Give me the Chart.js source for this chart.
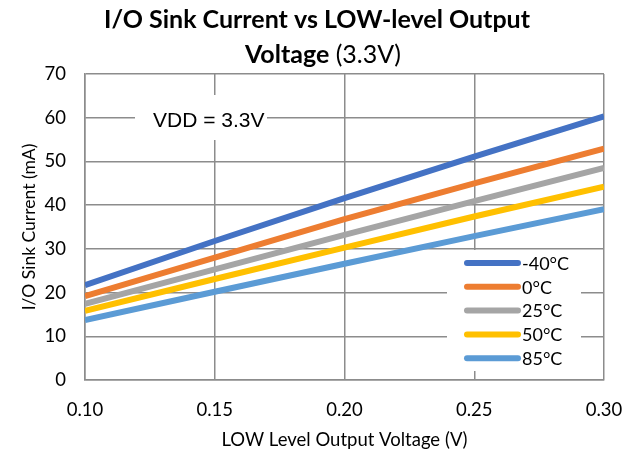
<!DOCTYPE html>
<html>
<head>
<meta charset="utf-8">
<script src="https://cdn.jsdelivr.net/npm/chart.js@4"></script>
<style>
  html, body { margin: 0; padding: 0; background: #fff; }
  #wrap { width: 635px; height: 454px; }
</style>
</head>
<body>
<div id="wrap"><canvas id="chart" width="635" height="454"></canvas></div>
<script>
const voltages = [0.10, 0.15, 0.20, 0.25, 0.30];
const tempLabels = ["-40°C", "0°C", "25°C", "50°C", "85°C"];
const sinkM40 = [21.7, 31.8, 41.6, 51.1, 60.3];
const sink0 = [19.2, 28.0, 36.8, 45.0, 52.9];
const sink25 = [17.4, 25.3, 33.2, 40.9, 48.5];
const sink50 = [15.8, 23.1, 30.3, 37.4, 44.2];
const sink85 = [13.7, 20.2, 26.6, 32.9, 39.1];
const colors = ["#4472C4", "#ED7D31", "#A5A5A5", "#FFC000", "#5B9BD5"];

const allSeries = [sinkM40, sink0, sink25, sink50, sink85];
const gridColor = "#8c8c8c";
const calibri = "Lato, 'Open Sans', sans-serif";

function toPoints(vals) {
  return vals.map((v, i) => ({ x: voltages[i], y: v }));
}

// title with bold + normal parts
const titlePlugin = {
  id: "title2",
  afterDraw(chart) {
    const ctx = chart.ctx;
    ctx.save();
    ctx.fillStyle = "#000";
    ctx.textBaseline = "middle";
    ctx.textAlign = "center";
    ctx.font = "bold 25px " + calibri;
    ctx.fillText("I/O Sink Current vs LOW-level Output", 317, 20);
    ctx.textAlign = "left";
    const bold = "Voltage";
    const rest = " (3.3V)";
    ctx.font = "bold 25px " + calibri;
    const w1 = ctx.measureText(bold).width;
    ctx.font = "25px " + calibri;
    const w2 = ctx.measureText(rest).width;
    let x = 323 - (w1 + w2) / 2;
    ctx.font = "bold 25px " + calibri;
    ctx.fillText(bold, x, 55);
    ctx.font = "25px " + calibri;
    ctx.fillText(rest, x + w1, 55);
    ctx.restore();
  }
};

// VDD note + legend box sit on top of the grid
const boxesPlugin = {
  id: "boxes",
  beforeDatasetsDraw(chart) {
    const ctx = chart.ctx;
    ctx.save();
    ctx.fillStyle = "#fff";
    ctx.fillRect(135, 95, 132, 45);
    ctx.fillRect(447, 250, 134, 121);
    ctx.fillStyle = "#000";
    ctx.font = "21px 'Liberation Sans', Arial, sans-serif";
    ctx.textBaseline = "middle";
    ctx.fillText("VDD = 3.3V", 153, 121);
    ctx.restore();
  },
  afterDatasetsDraw(chart) {
    const ctx = chart.ctx;
    ctx.save();
    ctx.font = "18px " + calibri;
    ctx.textBaseline = "middle";
    chart.data.datasets.forEach((ds, i) => {
      const y = 263 + i * 23.8;
      ctx.strokeStyle = ds.borderColor;
      ctx.lineWidth = 6;
      ctx.lineCap = "round";
      ctx.beginPath();
      ctx.moveTo(467, y);
      ctx.lineTo(518, y);
      ctx.stroke();
      ctx.fillStyle = "#000";
      ctx.fillText(ds.label, 522, y + 1);
    });
    ctx.restore();
  }
};

new Chart(document.getElementById("chart"), {
  type: "line",
  data: {
    datasets: allSeries.map((s, i) => ({
      label: tempLabels[i],
      data: toPoints(s),
      borderColor: colors[i],
      backgroundColor: colors[i],
      borderWidth: 6,
      pointRadius: 0,
      tension: 0,
      borderCapStyle: "butt"
    }))
  },
  options: {
    responsive: false,
    animation: false,
    layout: { padding: { left: 0, right: 31, top: 74, bottom: 0 } },
    plugins: {
      legend: { display: false },
      tooltip: { enabled: false }
    },
    scales: {
      x: {
        type: "linear",
        min: 0.1,
        max: 0.3,
        afterFit(scale) { scale.height = 74; },
        // invisible tick marks push the labels down without widening the side padding
        grid: { color: gridColor, lineWidth: 1.5, drawTicks: true, tickLength: 19, tickColor: "rgba(0,0,0,0)" },
        border: { color: gridColor, width: 1.5 },
        ticks: {
          stepSize: 0.05,
          padding: 0,
          color: "#000",
          font: { family: calibri, size: 18.5 },
          callback: v => v.toFixed(2)
        },
        title: {
          display: true,
          text: "LOW Level Output Voltage (V)",
          color: "#000",
          font: { family: calibri, size: 18.5 },
          padding: { top: 0, bottom: 3 }
        }
      },
      y: {
        min: 0,
        max: 70,
        afterFit(scale) { scale.width = 85; },
        grid: { color: gridColor, lineWidth: 1.5, drawTicks: false },
        border: { color: gridColor, width: 1.5 },
        ticks: {
          stepSize: 10,
          padding: 19,
          color: "#000",
          font: { family: calibri, size: 18.5 }
        },
        title: {
          display: true,
          text: "I/O Sink Current (mA)",
          color: "#000",
          font: { family: calibri, size: 17.5 },
          padding: { top: 19, bottom: 0 }
        }
      }
    }
  },
  plugins: [titlePlugin, boxesPlugin]
});
</script>
</body>
</html>
